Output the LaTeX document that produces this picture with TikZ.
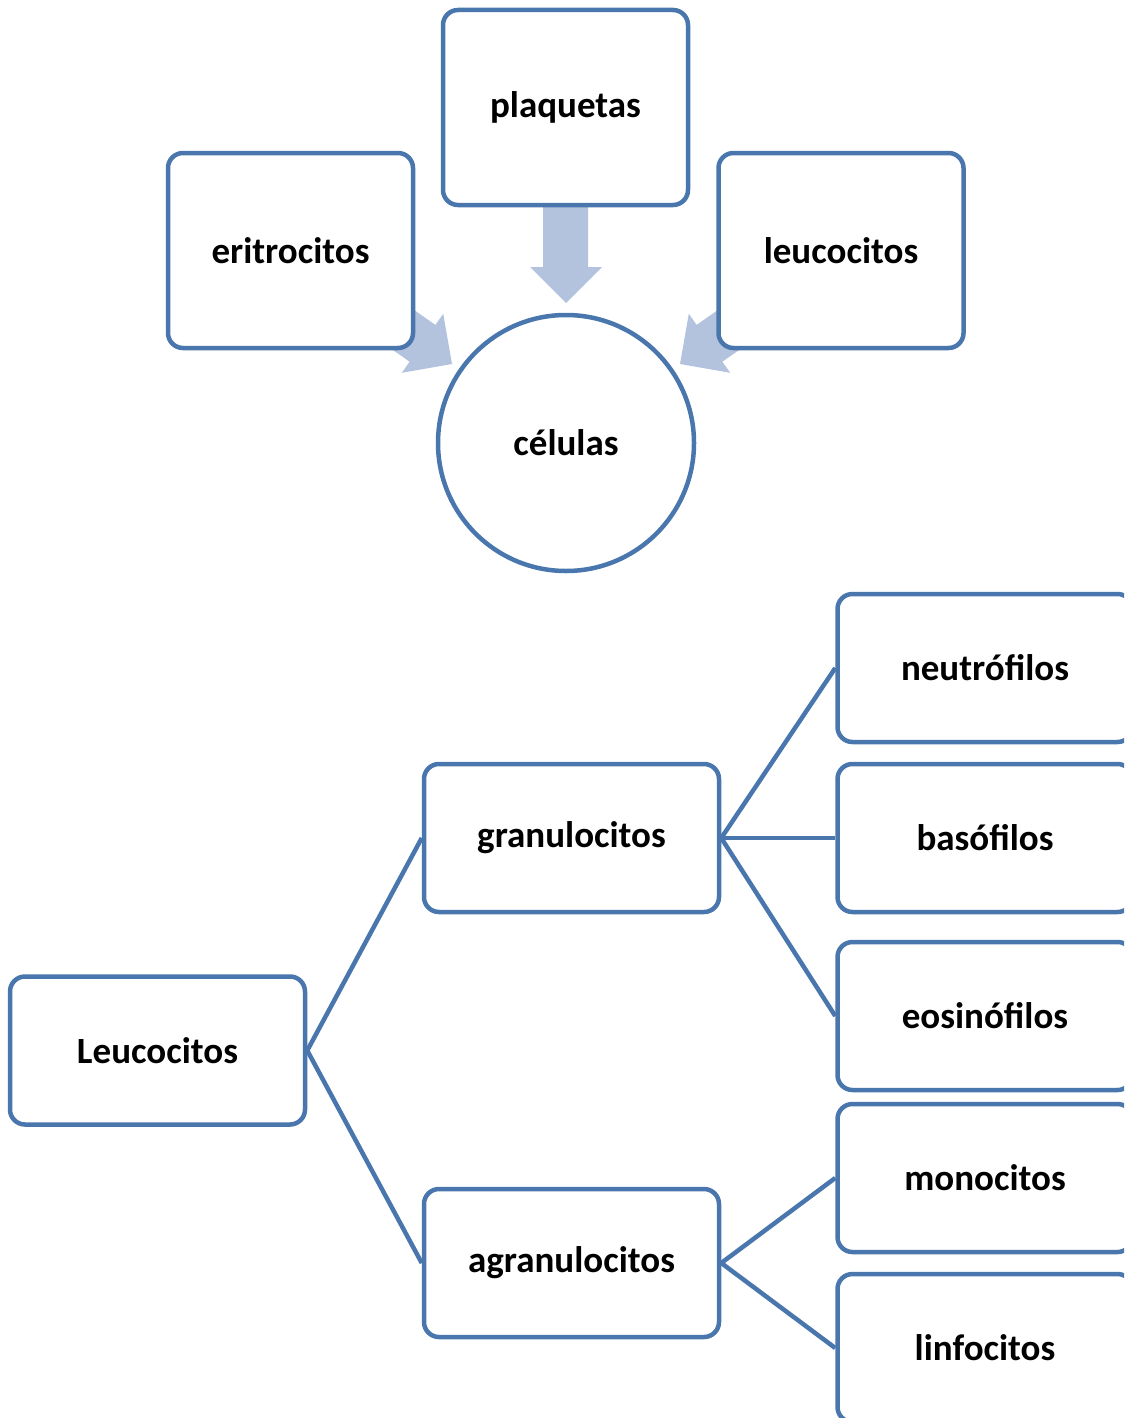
\documentclass[tikz,border=0pt]{standalone}
\usepackage{fontspec}
\setmainfont{Carlito}
\definecolor{edgeblue}{RGB}{74,118,174}
\definecolor{arrowblue}{RGB}{179,195,222}
\begin{document}
\begin{tikzpicture}[x=1pt,y=-1pt,
  box/.style={draw=edgeblue, line width=4.5pt, rounded corners=15pt, fill=white,
    minimum width=#1, minimum height=148pt, inner sep=0pt,
    font=\fontsize{37}{40}\selectfont\bfseries},
  box/.default=295pt,
  tallbox/.style={box=245pt, minimum height=195pt},
  link/.style={draw=edgeblue, line width=4.5pt},
  blockarrow/.style={fill=arrowblue, draw=none}]
\useasboundingbox (0,0) rectangle (1124,1418);
\clip (0,0) rectangle (1124,1418);

% block arrows (drawn first, boxes cover their tails)
\fill[blockarrow] (543,200) -- (588,200) -- (588,267) -- (602,267) -- (566,303) -- (530,267) -- (543,267) -- cycle;
\fill[blockarrow] (358.8,326.1) -- (409.6,361.7) -- (401.8,372.8) -- (452,364) -- (443.2,313.8) -- (435.4,324.9) -- (384.6,289.3) -- cycle;
\fill[blockarrow] (773.2,326.1) -- (722.4,361.7) -- (730.2,372.8) -- (680,364) -- (688.8,313.8) -- (696.6,324.9) -- (747.4,289.3) -- cycle;

% top part
\node[tallbox] (plaq) at (565.5,107.5) {plaquetas};
\node[tallbox] (eri) at (290.5,250.5) {eritrocitos};
\node[tallbox] (leu) at (841,250.5) {leucocitos};
\node[draw=edgeblue, line width=4.5pt, circle, minimum size=256pt, inner sep=0pt,
  font=\fontsize{37}{40}\selectfont\bfseries] (cel) at (566,443) {células};

% bottom tree
\node[box] (L) at (157.5,1050.5) {Leucocitos};
\node[box] (gra) at (571.5,838) {granulocitos};
\node[box] (agr) at (571.5,1263) {agranulocitos};
\node[box] (neu) at (985,668) {neutrófilos};
\node[box] (bas) at (985,838) {basófilos};
\node[box] (eos) at (985,1016) {eosinófilos};
\node[box] (mon) at (985,1178) {monocitos};
\node[box] (lin) at (985,1348) {linfocitos};

\draw[link] (L.east) -- (gra.west);
\draw[link] (L.east) -- (agr.west);
\draw[link] (gra.east) -- (neu.west);
\draw[link] (gra.east) -- (bas.west);
\draw[link] (gra.east) -- (eos.west);
\draw[link] (agr.east) -- (mon.west);
\draw[link] (agr.east) -- (lin.west);
\end{tikzpicture}
\end{document}
